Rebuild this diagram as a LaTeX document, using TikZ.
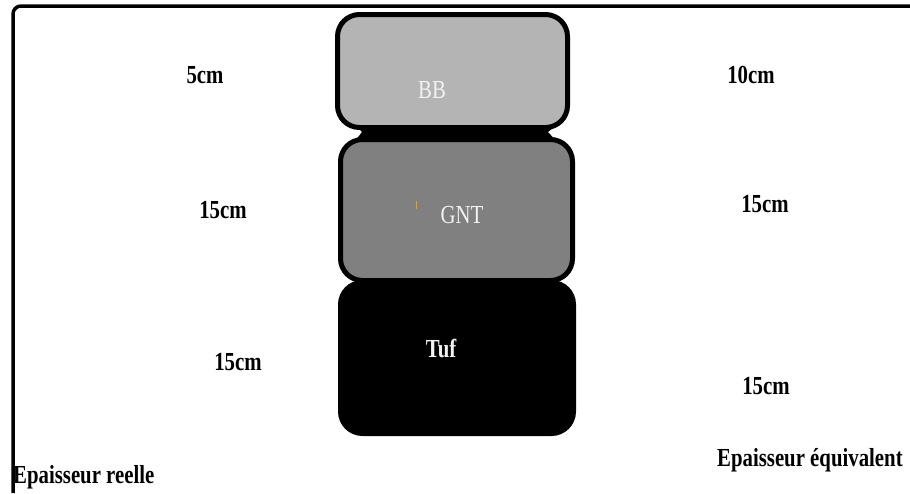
\documentclass[tikz,border=0pt]{standalone}
\usepackage{fontspec}
\setmainfont{Liberation Serif}
\usepackage{graphicx}
\newcommand{\sqz}[1]{\scalebox{0.8}[1]{#1}}
\definecolor{bbgray}{HTML}{B4B4B4}
\definecolor{gntgray}{HTML}{808080}
\definecolor{labwhite}{HTML}{F2F2F2}
\begin{document}
\begin{tikzpicture}[x=1pt,y=-1pt,
  lbl/.style={font=\fontsize{26}{28}\selectfont\bfseries, text=black, inner sep=0pt},
  inlbl/.style={font=\fontsize{26}{28}\selectfont, text=labwhite, inner sep=0pt},
  layer/.style={draw=black, line width=5pt, rounded corners=22pt, inner sep=0pt}]
\useasboundingbox (0,0) rectangle (910,493);
\fill[white] (0,0) rectangle (910,493);
% frame
\coordinate (fbl) at (13,493);
\coordinate (ftl) at (13,6);
\coordinate (ftr) at (910,6);
\draw[line width=3.5pt, rounded corners=8pt] (fbl) -- (ftl) -- (ftr);
% black joints between layers
\fill[black] (352,122) -- (560,122) -- (548,132) -- (560,145) -- (352,145) -- (362,132) -- cycle;
\fill[black] (352,274) -- (560,274) -- (552,281) -- (562,290) -- (352,290) -- (360,281) -- cycle;
% layers
\node[layer, fill=black, minimum width=233pt, minimum height=151pt] (tuf) at (457,358) {};
\node[layer, fill=gntgray, minimum width=232pt, minimum height=141pt] (gnt) at (456.5,210) {};
\node[layer, fill=bbgray, minimum width=230pt, minimum height=113pt] (bb) at (452.5,71) {};
% layer labels
\node[inlbl] (bbl) at (432,90) {\sqz{BB}};
\node[inlbl] (gntl) at (462,215) {\sqz{GNT}};
\node[inlbl, font=\fontsize{26}{28}\selectfont\bfseries] (tufl) at (441,348) {\sqz{Tuf}};
\coordinate (tick1) at (416,201);
\coordinate (tick2) at (416,209);
\draw[orange!80!yellow, line width=1pt] (tick1) -- (tick2);
% thickness labels
\node[lbl] (l1) at (205,75) {\sqz{5cm}};
\node[lbl] (l2) at (223,210) {\sqz{15cm}};
\node[lbl] (l3) at (238,362) {\sqz{15cm}};
\node[lbl] (r1) at (751,75) {\sqz{10cm}};
\node[lbl] (r2) at (765,204) {\sqz{15cm}};
\node[lbl] (r3) at (766,386) {\sqz{15cm}};
\node[lbl, anchor=base west] (er) at (13,483) {\sqz{Epaisseur reelle}};
\node[lbl, anchor=base west] (ee) at (717,466) {\sqz{Epaisseur équivalent}};
\end{tikzpicture}
\end{document}
